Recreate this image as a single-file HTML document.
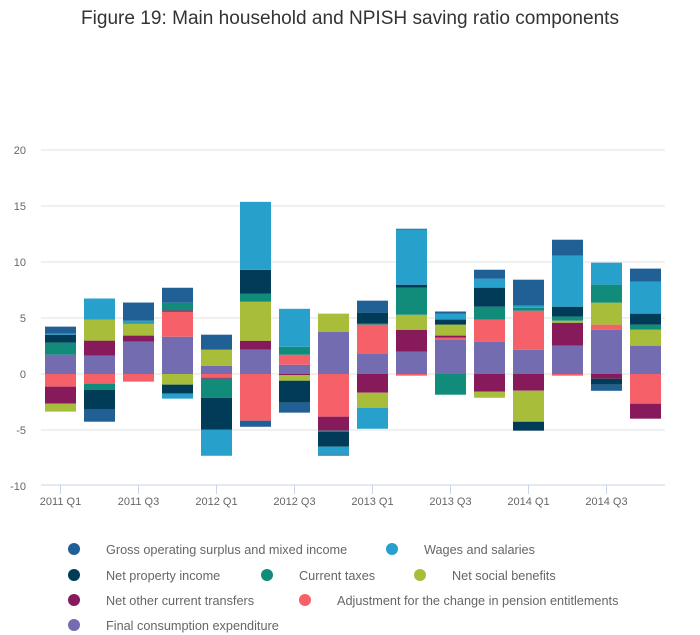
<!DOCTYPE html>
<html><head><meta charset="utf-8"><style>
body{margin:0;background:#fff;}
svg{display:block;font-family:"Liberation Sans",sans-serif;}
</style></head><body>
<svg id="chart" width="700" height="635">
<text x="350" y="24" text-anchor="middle" font-size="19" fill="#333" textLength="538" lengthAdjust="spacingAndGlyphs">Figure 19: Main household and NPISH saving ratio components</text>
<g id="grid"></g><g id="bars"></g><g id="xaxis"></g><g id="legend"></g>
</svg>
<script>
const categories=["2011 Q1","2011 Q2","2011 Q3","2011 Q4","2012 Q1","2012 Q2","2012 Q3","2012 Q4","2013 Q1","2013 Q2","2013 Q3","2013 Q4","2014 Q1","2014 Q2","2014 Q3","2014 Q4"];
const seriesNames=["Final consumption expenditure","Adjustment for the change in pension entitlements","Net other current transfers","Net social benefits","Current taxes","Net property income","Wages and salaries","Gross operating surplus and mixed income"];
const fce=[1.73,1.64,2.89,3.33,0.74,2.17,0.83,3.78,1.82,1.99,3.07,2.89,2.17,2.53,3.96,2.53];
const pension=[-1.13,-0.86,-0.68,2.23,-0.33,-4.17,0.89,-3.81,2.59,-0.15,0.18,1.96,3.48,-0.15,0.45,-2.65];
const otherTransfers=[-1.52,1.34,0.54,0.12,-0.09,0.80,-0.09,-1.25,-1.67,1.96,0.18,-1.58,-1.49,2.05,-0.42,-1.34];
const socialBenefits=[-0.71,1.88,1.07,-0.95,1.43,3.48,-0.51,1.61,-1.34,1.34,0.98,-0.54,-2.77,0.18,1.96,1.43];
const currentTaxes=[1.07,-0.54,0.09,0.68,-1.70,0.71,0.71,-0.09,0.09,2.41,-1.85,1.16,0.27,0.36,1.61,0.45];
const propertyIncome=[0.71,-1.79,0,-0.80,-2.86,2.14,-1.96,-1.34,0.98,0.27,0.45,1.70,-0.80,0.89,-0.54,0.98];
const wages=[0.09,1.88,0.18,-0.45,-2.32,6.07,3.39,-0.71,-1.88,4.91,0.54,0.80,0.18,4.55,1.96,2.86];
const gos=[0.63,-1.07,1.61,1.34,1.34,-0.54,-0.89,-0.09,1.07,0.09,0.18,0.80,2.32,1.43,-0.54,1.16];
const yTicks=[20,15,10,5,0,-5,-10];
const xTickLabels=["2011 Q1","2011 Q3","2012 Q1","2012 Q3","2013 Q1","2013 Q3","2014 Q1","2014 Q3"];

const series=[fce,pension,otherTransfers,socialBenefits,currentTaxes,propertyIncome,wages,gos];
const colors=["#746cb1","#f66068","#871a5b","#a8bd3a","#118c7b","#003c57","#27a0cc","#206095"];
const ns="http://www.w3.org/2000/svg";
const y0=374, unit=11.2, left=41, right=665, bandStart=45, step=39, bw=31;
const yScale=v=>y0-v*unit;
const xScale=i=>bandStart+i*step;
function mk(tag,attrs,parent){const e=document.createElementNS(ns,tag);for(const k in attrs)e.setAttribute(k,attrs[k]);parent.appendChild(e);return e;}
const grid=document.getElementById('grid');
yTicks.forEach(t=>{
  if(t!==-10){const l=mk('line',{x1:left,x2:right,y1:yScale(t),y2:yScale(t),stroke:'#e2e2e2','stroke-width':1},grid);
  
  }
  const tx=mk('text',{x:26,y:yScale(t)+4,'text-anchor':'end','font-size':11,fill:'#666'},grid);
  tx.textContent=t;
  
  
});
const bars=document.getElementById('bars');
categories.forEach((c,i)=>{
  let pos=0,neg=0;
  series.forEach((s,j)=>{
    const v=s[i]; if(!v) return;
    let top,h;
    if(v>0){top=yScale(pos+v);h=v*unit;pos+=v;}else{top=yScale(neg);h=-v*unit;neg+=v;}
    const r=mk('rect',{x:xScale(i),y:top,width:bw,height:h,fill:colors[j]},bars);
    
    
  });
});
const xa=document.getElementById('xaxis');
const ax=mk('line',{x1:left,x2:right,y1:485,y2:485,stroke:'#c8d6ea','stroke-width':1},xa);


xTickLabels.forEach(lbl=>{
  const i=categories.indexOf(lbl); const cx=xScale(i)+bw/2;
  mk('line',{x1:cx,x2:cx,y1:485,y2:494,stroke:'#c8d6ea'},xa);
  const t=mk('text',{x:cx,y:505,'text-anchor':'middle','font-size':11,fill:'#666'},xa);
  t.textContent=lbl;
  
  
});
const legendPos=[[74,549,7],[392,549,6],[74,575,5],[267,575,4],[420,575,3],[74,600,2],[305,600,1],[74,625,0]];
const lg=document.getElementById('legend');
legendPos.forEach(([x,y,j])=>{
  const g=mk('g',{},lg);
  
  
  mk('circle',{cx:x,cy:y,r:6,fill:colors[j]},g);
  const t=mk('text',{x:x+32,y:y+5,'font-size':12.7,fill:'#666'},g);
  t.textContent=seriesNames[j];
});
</script>
</body></html>
